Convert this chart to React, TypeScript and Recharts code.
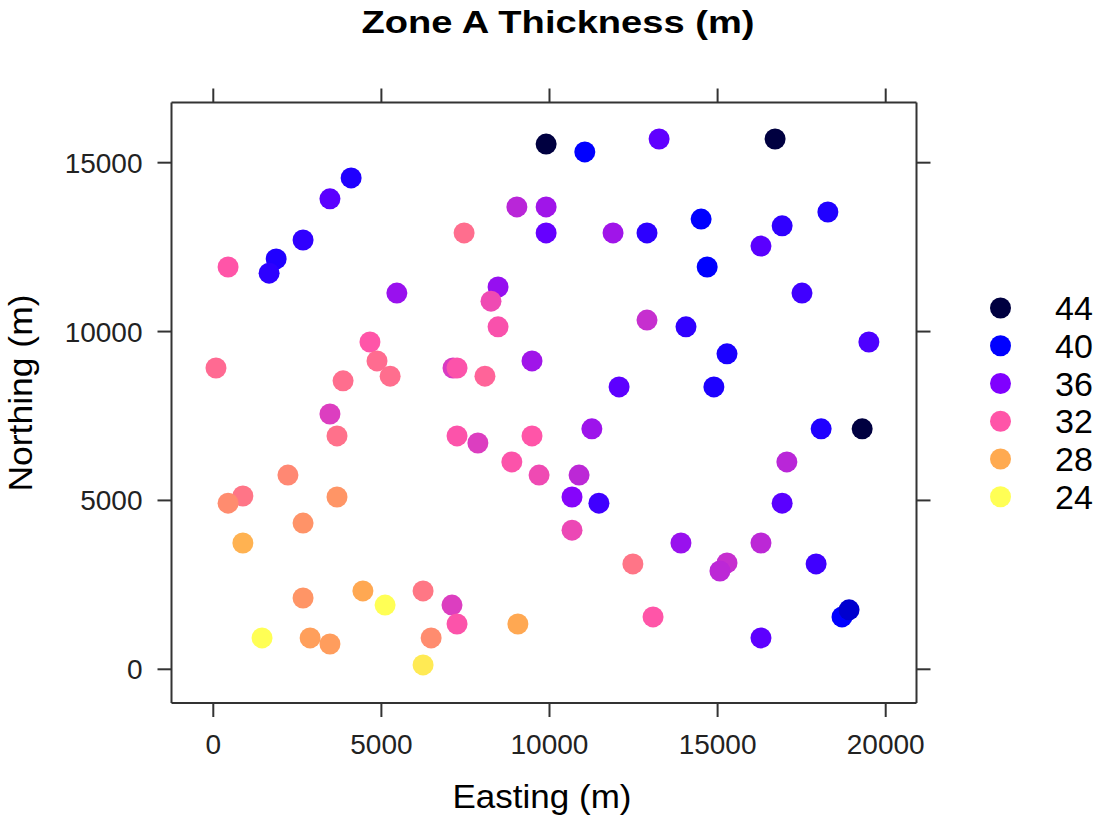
import React from "react";
import { ScatterChart, Scatter, XAxis, YAxis, Customized } from "recharts";

// sample locations (m) and zone A thickness (m)
const easting = [
  9900, 11050, 13260, 16710, 4100, 3470, 2670, 1870, 1660, 440,
  9030, 9900, 9900, 7460, 5460, 8470, 8260, 8470, 4660, 4870,
  5260, 80, 3860, 7130, 7250, 8080, 9480, 11890, 12900, 14510,
  14690, 16290, 16920, 18280, 17510, 12900, 14060, 15280, 19500, 12070,
  14890, 11260, 18080, 19300, 17060, 10880, 9690, 10670, 11470, 16920,
  10670, 13910, 16290, 12480, 15280, 15070, 17930, 13080, 18700, 18910,
  16290, 3470, 3680, 7250, 7870, 9480, 8880, 2220, 880, 440,
  3680, 2670, 880, 2670, 4450, 5110, 6240, 7100, 7250, 9060,
  1450, 2880, 3470, 6480, 6240,
];
const northing = [
  15550, 15320, 15700, 15700, 14550, 13930, 12710, 12150, 11730, 11910,
  13690, 13690, 12920, 12920, 11140, 11320, 10900, 10140, 9690, 9130,
  8680, 8920, 8540, 8920, 8920, 8680, 9130, 12920, 12920, 13330,
  11910, 12530, 13130, 13540, 11140, 10340, 10140, 9340, 9690, 8360,
  8360, 7120, 7120, 7120, 6140, 5750, 5750, 5100, 4920, 4920,
  4120, 3740, 3740, 3120, 3150, 2910, 3120, 1550, 1550, 1760,
  930, 7560, 6910, 6910, 6700, 6910, 6140, 5750, 5130, 4920,
  5100, 4330, 3740, 2110, 2320, 1900, 2320, 1900, 1340, 1340,
  930, 930, 750, 930, 130,
];
const thickness = [
  44, 40, 37, 44, 39, 37.2, 38.5, 39, 38.6, 32,
  34.2, 35, 36.8, 30.8, 35.2, 35.3, 32.5, 32.2, 32, 30.9,
  30.8, 31, 30.8, 33.2, 32.1, 31.3, 35, 35, 38.6, 40,
  40, 37.2, 38.5, 39, 38, 33.8, 38.5, 39.2, 37.6, 37.1,
  39.1, 35.1, 39, 44, 34.2, 34.1, 32.5, 35.8, 38, 37.2,
  32.6, 35.2, 34.1, 30.5, 33.8, 34.1, 38, 32, 40, 41,
  37.1, 33.1, 30.7, 32.1, 33.1, 32, 32.1, 29.6, 30.5, 29.4,
  29, 29.1, 27.6, 29, 28.1, 24, 30.4, 33.1, 32.1, 28.1,
  24, 28.5, 28.6, 29.4, 25,
];

const legendLevels = [44, 40, 36, 32, 28, 24];
const levelColors = ["#000040", "#0000FF", "#8000FF", "#FF55A8", "#FFAA50", "#FFFF55"];

const xTicks = [0, 5000, 10000, 15000, 20000];
const yTicks = [0, 5000, 10000, 15000];
const xDomain = [-1243, 20916];
const yDomain = [-998, 16782];

const FONT = "'Liberation Sans', Arial, sans-serif";
const INK = "#333333";

function hex(c: string) {
  return [1, 3, 5].map((i) => parseInt(c.slice(i, i + 2), 16));
}

// linear ramp between the legend levels
function thicknessColor(v: number) {
  const lv = [...legendLevels].reverse();
  const cols = [...levelColors].reverse();
  if (v <= lv[0]) return cols[0];
  if (v >= lv[lv.length - 1]) return cols[cols.length - 1];
  let i = 0;
  while (v > lv[i + 1]) i++;
  const t = (v - lv[i]) / (lv[i + 1] - lv[i]);
  const a = hex(cols[i]);
  const b = hex(cols[i + 1]);
  const mix = a.map((c, k) => Math.round(c + (b[k] - c) * t));
  return `rgb(${mix.join(",")})`;
}

const points = easting.map((x, i) => ({
  x,
  y: northing[i],
  z: thickness[i],
  fill: thicknessColor(thickness[i]),
}));

const Dot = (props: any) => (
  <circle cx={props.cx} cy={props.cy} r={10.5} fill={props.payload.fill} />
);

const NoDot = () => null;

// top/right frame: tick marks only, no labels
const BlankTick = () => <g />;

const BottomTick = ({ x, y, payload }: any) => (
  <text x={x} y={y + 37} textAnchor="middle" fontFamily={FONT} fontSize={28} fill="#222">
    {payload.value}
  </text>
);

const LeftTick = ({ x, y, payload }: any) => (
  <text x={x - 15} y={y + 10} textAnchor="end" fontFamily={FONT} fontSize={28} fill="#222">
    {payload.value}
  </text>
);

const Titles = () => (
  <g fontFamily={FONT} fill="#000">
    <text x={558} y={33} textAnchor="middle" fontSize={32} fontWeight="bold"
      textLength={393} lengthAdjust="spacingAndGlyphs">
      Zone A Thickness (m)
    </text>
    <text x={542} y={808} textAnchor="middle" fontSize={34}
      textLength={179} lengthAdjust="spacingAndGlyphs">
      Easting (m)
    </text>
    <text x={0} y={0} textAnchor="middle" fontSize={34}
      transform="translate(32,393) rotate(-90)"
      textLength={197} lengthAdjust="spacingAndGlyphs">
      Northing (m)
    </text>
    {/* thickness key */}
    {legendLevels.map((lv, i) => {
      const cy = 308 + i * 37.75;
      return (
        <g key={lv}>
          <circle cx={1000.5} cy={cy} r={10.5} fill={levelColors[i]} />
          <text x={1055} y={cy + 12} fontSize={34}>
            {lv}
          </text>
        </g>
      );
    })}
  </g>
);

const axisLine = { stroke: INK, strokeWidth: 2 };

export default function App() {
  return (
    <div style={{ position: "absolute", left: 0, top: 0 }}>
      <ScatterChart
        width={1101}
        height={819}
        margin={{ top: 101.5, right: 183.5, bottom: 86, left: 111.5 }}
      >
        <XAxis
          type="number"
          dataKey="x"
          domain={xDomain}
          ticks={xTicks}
          allowDataOverflow
          height={30}
          tickSize={14}
          tickMargin={0}
          axisLine={axisLine}
          tickLine={axisLine}
          tick={<BottomTick />}
        />
        <XAxis
          xAxisId="top"
          orientation="top"
          type="number"
          dataKey="x"
          domain={xDomain}
          ticks={xTicks}
          allowDataOverflow
          height={1}
          tickSize={14}
          axisLine={axisLine}
          tickLine={axisLine}
          tick={<BlankTick />}
        />
        <YAxis
          type="number"
          dataKey="y"
          domain={yDomain}
          ticks={yTicks}
          allowDataOverflow
          width={60}
          tickSize={14}
          tickMargin={0}
          axisLine={axisLine}
          tickLine={axisLine}
          tick={<LeftTick />}
        />
        <YAxis
          yAxisId="right"
          orientation="right"
          type="number"
          dataKey="y"
          domain={yDomain}
          ticks={yTicks}
          allowDataOverflow
          width={1}
          tickSize={14}
          axisLine={axisLine}
          tickLine={axisLine}
          tick={<BlankTick />}
        />
        {/* frame axes need a series of their own */}
        <Scatter
          data={points}
          xAxisId="top"
          yAxisId="right"
          shape={<NoDot />}
          isAnimationActive={false}
        />
        <Scatter data={points} shape={<Dot />} isAnimationActive={false} />
        <Customized component={Titles} />
      </ScatterChart>
    </div>
  );
}
